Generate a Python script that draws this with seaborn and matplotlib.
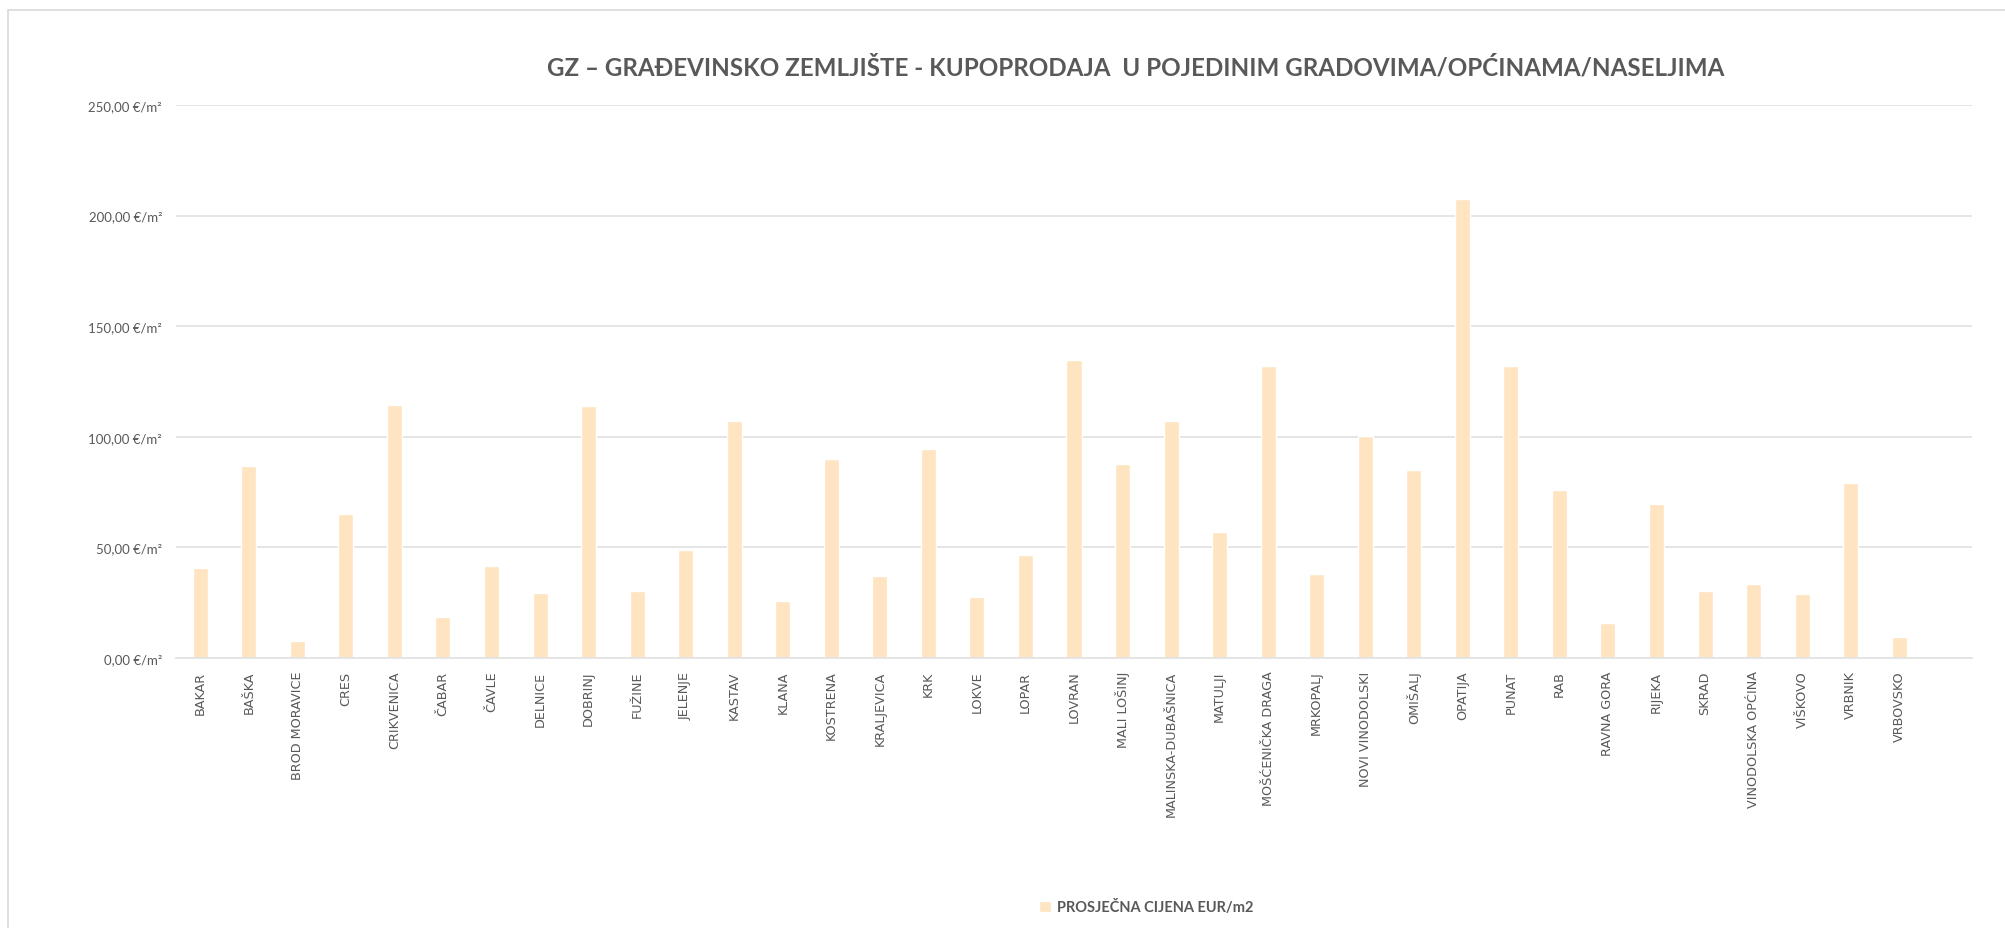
import numpy as np
import pandas as pd
import seaborn as sns
import matplotlib.pyplot as plt
from matplotlib.ticker import FuncFormatter
from matplotlib.patches import Rectangle

# kategorije (gradovi / općine / naselja)
gradovi = ['BAKAR', 'BAŠKA', 'BROD MORAVICE', 'CRES', 'CRIKVENICA', 'ČABAR', 'ČAVLE', 'DELNICE',
           'DOBRINJ', 'FUŽINE', 'JELENJE', 'KASTAV', 'KLANA', 'KOSTRENA', 'KRALJEVICA', 'KRK',
           'LOKVE', 'LOPAR', 'LOVRAN', 'MALI LOŠINJ', 'MALINSKA-DUBAŠNICA', 'MATULJI',
           'MOŠĆENIČKA DRAGA', 'MRKOPALJ', 'NOVI VINODOLSKI', 'OMIŠALJ', 'OPATIJA', 'PUNAT', 'RAB',
           'RAVNA GORA', 'RIJEKA', 'SKRAD', 'VINODOLSKA OPĆINA', 'VIŠKOVO', 'VRBNIK', 'VRBOVSKO']

# prosječna cijena EUR/m2
cijene = [40.8, 86.6, 7.7, 65.1, 114.5, 18.5, 41.5, 29.6,
          114.1, 30.3, 49.0, 107.0, 25.9, 90.1, 37.2, 94.4,
          27.7, 46.4, 134.9, 87.6, 107.3, 57.0,
          132.1, 37.9, 100.5, 84.9, 207.3, 132.0, 76.0,
          15.6, 69.6, 30.3, 33.5, 28.9, 79.1, 9.5]

y_ticks = [0, 50, 100, 150, 200, 250]

naslov = 'GZ – GRAĐEVINSKO ZEMLJIŠTE - KUPOPRODAJA  U POJEDINIM GRADOVIMA/OPĆINAMA/NASELJIMA'
legenda = 'PROSJEČNA CIJENA EUR/m2'

boja_stupca = '#FFE4C1'
siva = '#595959'
boja_mreze = '#E3E3E3'

sns.set_style('white')
plt.rcParams['font.family'] = ['Open Sans', 'DejaVu Sans']

df = pd.DataFrame({'grad': gradovi, 'cijena': cijene})

fig = plt.figure(figsize=(20.06, 9.29), dpi=100)
ax = fig.add_axes([176 / 2006, 1 - 659 / 929, 1796 / 2006, 553 / 929])

sns.barplot(data=df, x='grad', y='cijena', color=boja_stupca, saturation=1, width=0.31,
            label=legenda, ax=ax, zorder=3)

# jedan prazan slot na kraju kao u originalu
ax.set_xlim(-0.5, len(gradovi) + 0.5)
ax.set_ylim(0, 250)
ax.set_yticks(y_ticks)
ax.yaxis.set_major_formatter(FuncFormatter(lambda v, p: f'{v:.2f}'.replace('.', ',') + ' €/m²'))
ax.set_xticks(range(len(gradovi)), labels=gradovi, rotation=90, fontsize=9.2,
              family=['DejaVu Sans'], color=siva)
ax.grid(axis='y', color=boja_mreze, linewidth=1.3, zorder=0)
for s in ['top', 'right', 'left']:
    ax.spines[s].set_visible(False)
ax.spines['bottom'].set_color(boja_mreze)
ax.spines['bottom'].set_linewidth(1.3)
ax.spines['bottom'].set_zorder(4)

ax.tick_params(axis='y', length=0, pad=10, labelsize=9.5, labelcolor=siva)
ax.tick_params(axis='x', length=0, pad=9)
for t in ax.get_yticklabels():
    t.set_family(['Lato', 'DejaVu Sans'])
ax.set_xlabel('')
ax.set_ylabel('')

fig.text(1136 / 2006, 1 - 68 / 929, naslov, ha='center', va='center', fontsize=17.4,
         fontweight='bold', color=siva, family=['Lato', 'DejaVu Sans'])

ax.legend().remove()
h, l = ax.get_legend_handles_labels()
fig.legend(h[:1], l[:1], loc='center', bbox_to_anchor=(1146 / 2006, 1 - 908 / 929), frameon=False,
           prop={'weight': 'bold', 'size': 10.5, 'family': ['Lato', 'DejaVu Sans']},
           labelcolor=siva, handlelength=0.8, handleheight=0.8, handletextpad=0.4)

# okvir grafikona
fig.patches.append(Rectangle((8 / 2006, -0.1), 1.2, 1 - 11 / 929 + 0.1, transform=fig.transFigure,
                             fill=False, edgecolor='#D9D9D9', linewidth=1.2))

fig.savefig('out.png', dpi=100)
